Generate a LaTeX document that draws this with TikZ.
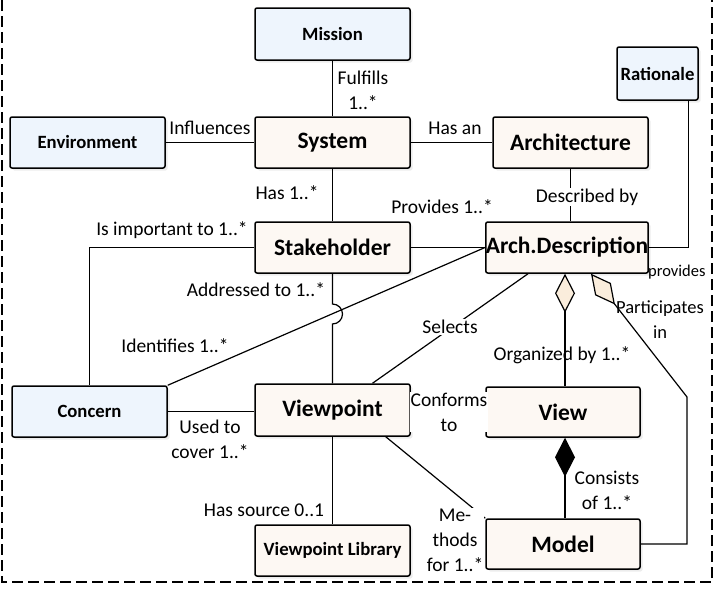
\documentclass[tikz,border=0pt]{standalone}
\usepackage{fontspec}
\setmainfont{Carlito}
\usepackage{tikz}
\usetikzlibrary{arrows.meta}
\usetikzlibrary{shadows}
\definecolor{blueFill}{RGB}{238,245,253}
\definecolor{creamFill}{RGB}{253,248,243}
\definecolor{diamondFill}{RGB}{250,237,220}
\colorlet{penColor}{black}
\tikzset{
  umlbox/.style={draw=penColor,line width=1.5pt,rounded corners=2pt,inner sep=0pt,
    drop shadow={shadow xshift=2.5pt,shadow yshift=-2.5pt,opacity=.15}},
  bigbox/.style={umlbox,fill=creamFill,font=\fontsize{23.5}{26}\selectfont\bfseries},
  smallbox/.style={umlbox,font=\fontsize{18.7}{21}\selectfont\bfseries},
  lbl/.style={font=\fontsize{19.5}{25}\selectfont,inner sep=1pt,align=center},
  wlbl/.style={lbl,fill=white},
  conn/.style={draw=penColor,line width=1.2pt},
  aggr/.style={{Diamond[length=39pt,width=20pt,fill=diamondFill]}-},
  comp/.style={{Diamond[length=39pt,width=20pt,fill=penColor]}-}
}

\begin{document}
\begin{tikzpicture}[x=1pt,y=-1pt]
  \useasboundingbox (0,0) rectangle (717,603);
  \draw[line width=1.2pt,dash pattern=on 11pt off 5pt] (2,0) -- (2,582) -- (712,582) -- (712,0);

  \node[smallbox,fill=blueFill,minimum width=155pt,minimum height=52pt] (mission) at (332.5,34) {Mission};
  \node[smallbox,fill=blueFill,minimum width=155pt,minimum height=51pt] (env) at (87.5,142.5) {Environment};
  \node[bigbox,minimum width=155pt,minimum height=51pt] (system) at (332.5,142.5) {System};
  \node[bigbox,minimum width=155pt,minimum height=51pt] (arch) at (570.5,142.5) {Architecture};
  \node[smallbox,fill=blueFill,minimum width=81pt,minimum height=53pt] (rationale) at (657.5,73.5) {Rationale};
  \node[bigbox,minimum width=155pt,minimum height=51pt] (stake) at (332.5,247.5) {Stakeholder};
  \node[bigbox,minimum width=162pt,minimum height=51pt] (archdesc) at (567,247.5) {Arch.Description};
  \node[smallbox,fill=blueFill,minimum width=155pt,minimum height=51pt] (concern) at (89.5,411.5) {Concern};
  \node[bigbox,minimum width=155pt,minimum height=52pt] (viewpoint) at (332.5,410) {Viewpoint};
  \node[bigbox,minimum width=154pt,minimum height=50pt] (view) at (563,412) {View};
  \node[smallbox,fill=creamFill,minimum width=155pt,minimum height=51pt] (vplib) at (332.5,550.5) {Viewpoint Library};
  \node[bigbox,minimum width=154pt,minimum height=50pt] (model) at (563,544) {Model};

  \coordinate (bend) at (687,397);

  \draw[conn] (mission) -- (system);
  \draw[conn] (env) -- (system);
  \draw[conn] (system) -- (arch);
  \draw[conn] (system) -- (stake);
  \draw[conn] (arch.south) -- (arch.south |- archdesc.north);
  \draw[conn] (stake) -- (archdesc);
  \draw[conn] ([xshift=-10pt]rationale.south east) |- (archdesc.east);
  \draw[conn] (stake.west) -| (concern.north);
  \draw[conn] (archdesc.west) -- (concern.north east);
  \draw[conn] (stake.south) -- (332.5,304) arc[start angle=90,end angle=-90,radius=10pt] -- (viewpoint.north);
  \draw[conn] (concern.east) -- (concern.east -| viewpoint.west);
  \draw[conn] (viewpoint) -- (vplib);
  \draw[conn] ([xshift=-39pt]archdesc.south) -- ([xshift=40pt]viewpoint.north);
  \draw[conn] (viewpoint.east) -- (viewpoint.east -| view.west);
  \draw[conn] ([xshift=-25pt]viewpoint.south east) -- (model.north west);

  \node[lbl] (lfulfills) at (363,90) {Fulfills\\1..*};
  \node[lbl] (linfl) at (210,128) {Influences};
  \node[lbl] (lhasan) at (455,128) {Has an};
  \node[lbl] (lhas) at (287,193) {Has 1..*};
  \node[wlbl] (ldescr) at (587,197) {Described by};
  \node[lbl] (lprov) at (442,207) {Provides 1..*};
  \node[lbl] (limport) at (172,230) {Is important to 1..*};
  \node[lbl] (laddr) at (256,290) {Addressed to 1..*};
  \node[wlbl] (lident) at (175,346) {Identifies 1..*};
  \node[wlbl] (lselects) at (450,327) {Selects};
  \node[wlbl] (lorg) at (562,355) {Organized by 1..*};
  \node[lbl,font=\fontsize{16.5}{20}\selectfont,anchor=west] (lprovides) at (647,272) {provides};
  \node[wlbl,font=\fontsize{18.5}{25}\selectfont] (lpart) at (660,320) {Participates\\in};
  \node[lbl] (lused) at (210,439) {Used to\\cover 1..*};
  \node[wlbl] (lconf) at (449,412) {Conforms\\to};
  \node[lbl] (lsource) at (264,510) {Has source 0..1};
  \node[lbl] (lcons) at (607,490) {Consists\\of 1..*};
  \node[wlbl] (lmeth) at (455,540) {Me-\\thods\\for 1..*};

  \draw[conn,aggr] ([xshift=2pt]archdesc.south -| view.north) -- ([xshift=2pt]view.north);
  \draw[conn,aggr] ([xshift=24pt]archdesc.south) -- (bend) |- (model.east);
  \draw[conn,comp] ([xshift=2pt]view.south) -- ([xshift=2pt]model.north);
\end{tikzpicture}
\end{document}
